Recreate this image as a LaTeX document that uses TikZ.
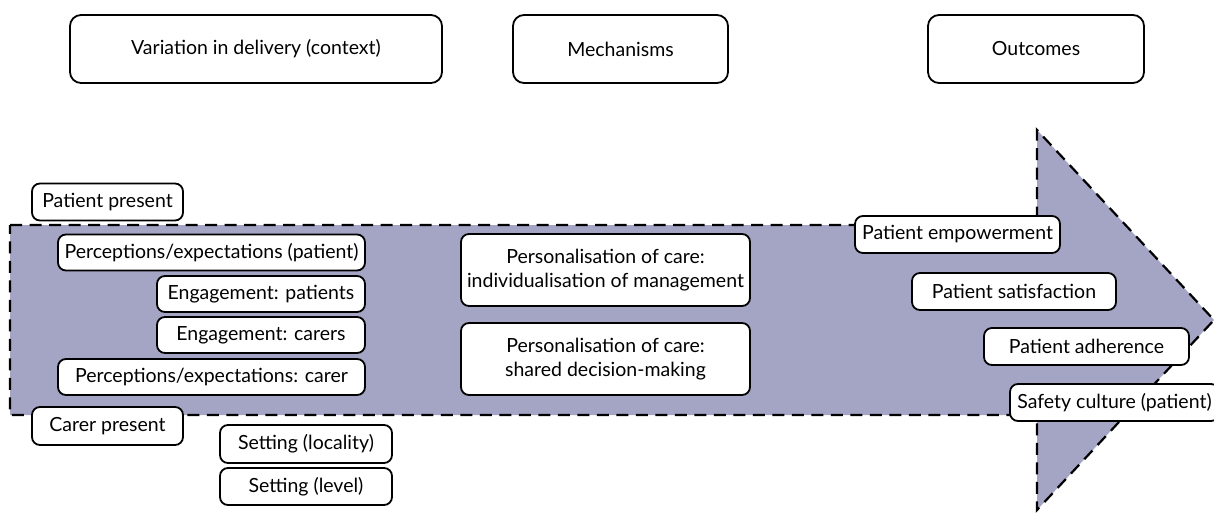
\documentclass[tikz,border=0pt]{standalone}
\usepackage{fontspec}
\setmainfont{Lato}
\definecolor{arrowfill}{RGB}{164,164,196}

\begin{document}
\begin{tikzpicture}[x=1pt, y=-1pt,
    box/.style={draw, rounded corners=8pt, line width=1.8pt, fill=white, inner sep=0pt, align=center, font=\fontsize{19.5}{24}\selectfont},
    head box/.style={box, rounded corners=11pt, minimum height=68pt},
    small box/.style={box, minimum height=37pt},
    big box/.style={box, minimum height=72pt, minimum width=289pt}]
        \useasboundingbox (0,0) rectangle (1214,516);

        % the big arrow behind everything
        \draw[fill=arrowfill, line width=2.2pt, dash pattern=on 12pt off 7.5pt]
            (10,225) -- (1037,225) -- (1037,130) -- (1214,320) -- (1037,510) -- (1037,415) -- (10,415) -- cycle;

        % column heads
          \node[head box, minimum width=372pt] (context) at (256,49) {Variation in delivery (context)};
          \node[head box, minimum width=215pt] (mech) at (620.5,49) {Mechanisms};
          \node[head box, minimum width=216pt] (outcomes) at (1036,49) {Outcomes};

        % context
          \node[small box, minimum width=151pt] (patpres) at (107.5,202) {Patient present};
          \node[small box, minimum width=307pt, minimum height=36pt] (percpat) at (211.5,252.5) {Perceptions/expectations (patient)};
          \node[small box, minimum width=208pt, minimum height=36pt] (engpat) at (261,294) {Engagement: patients};
          \node[small box, minimum width=208pt, minimum height=36pt] (engcar) at (261,335) {Engagement: carers};
          \node[small box, minimum width=307pt, minimum height=36pt] (perccar) at (211.5,377) {Perceptions/expectations: carer};
          \node[small box, minimum width=151pt, minimum height=38pt] (carpres) at (107.5,426) {Carer present};
          \node[small box, minimum width=172pt, minimum height=38pt] (setloc) at (306,444) {Setting (locality)};
          \node[small box, minimum width=172pt] (setlev) at (306,486.5) {Setting (level)};

        % mechanisms
          \node[big box] (persind) at (605.5,270) {Personalisation of care:\\individualisation of management};
          \node[big box] (persdec) at (605.5,359) {Personalisation of care:\\shared decision-making};

        % outcomes
          \node[small box, minimum width=205pt] (empower) at (957.5,234.5) {Patient empowerment};
          \node[small box, minimum width=204pt] (satisf) at (1014,291.5) {Patient satisfaction};
          \node[small box, minimum width=205pt] (adher) at (1086.5,346.5) {Patient adherence};
          \node[small box, minimum width=209pt] (safety) at (1114.5,402.5) {Safety culture (patient)};

        \end{tikzpicture}
\end{document}
